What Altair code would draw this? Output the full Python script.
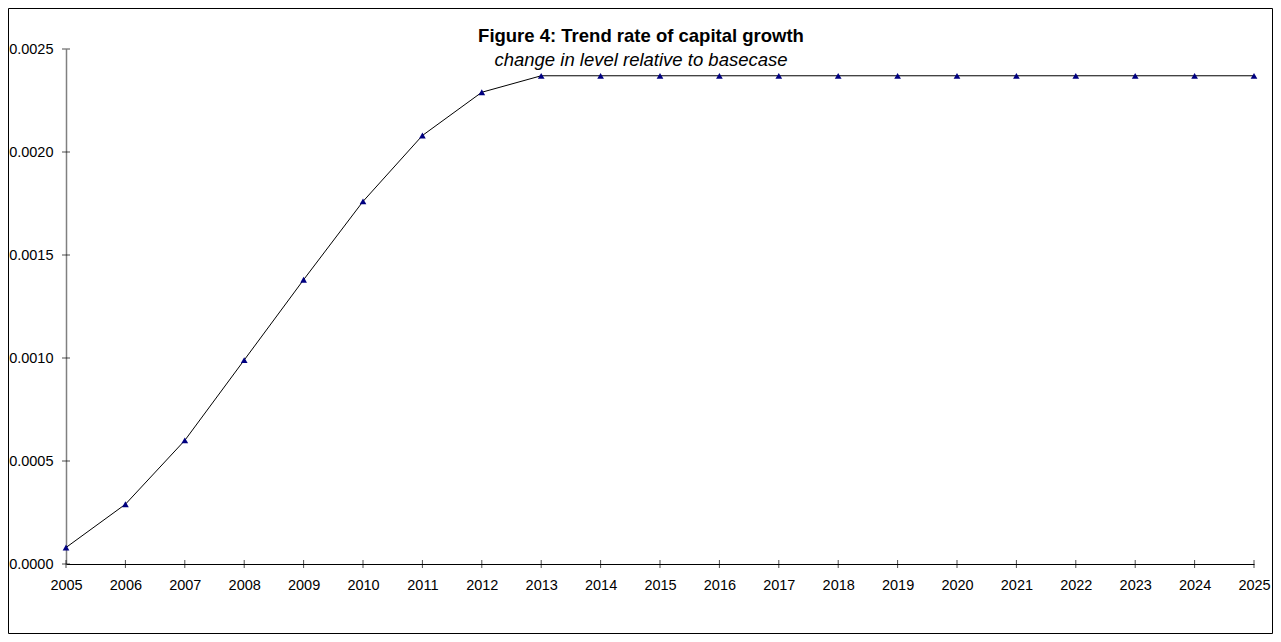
import altair as alt
import pandas as pd

years = [2005, 2006, 2007, 2008, 2009, 2010, 2011, 2012, 2013, 2014, 2015,
         2016, 2017, 2018, 2019, 2020, 2021, 2022, 2023, 2024, 2025]
values = [0.00008, 0.00029, 0.00060, 0.00099, 0.00138, 0.00176, 0.00208,
          0.00229, 0.00237, 0.00237, 0.00237, 0.00237, 0.00237, 0.00237,
          0.00237, 0.00237, 0.00237, 0.00237, 0.00237, 0.00237, 0.00237]
y_ticks = [0.0, 0.0005, 0.0010, 0.0015, 0.0020, 0.0025]
title_text = "Figure 4: Trend rate of capital growth"
subtitle_text = "change in level relative to basecase"

FONT = "Liberation Sans"
W, H = 1188, 515
LEFT, TOP = 58, 41

df = pd.DataFrame({"year": years, "value": values})
df_xt = pd.DataFrame({"year": years, "value": [0.0] * len(years)})
df_yt = pd.DataFrame({"year": [years[0]] * len(y_ticks), "value": y_ticks})

x_scale = alt.Scale(domain=[years[0], years[-1]], nice=False, zero=False)
y_scale = alt.Scale(domain=[y_ticks[0], y_ticks[-1]], nice=False, zero=True)
x_axis = alt.Axis(values=years, format="d", title=None, grid=False, ticks=False,
                  tickSize=0, labelPadding=14, labelFontSize=14.5, labelColor="black",
                  labelFont=FONT, labelFlush=False, labelOverlap=False,
                  domainColor="black", domainWidth=1)
y_axis = alt.Axis(values=y_ticks, format=".4f", title=None, grid=False, ticks=False,
                  tickSize=0, labelPadding=13, labelFontSize=14.5, labelColor="black",
                  labelFont=FONT, labelFlush=False, labelOverlap=False,
                  domainColor="#808080", domainWidth=1.5)

X = alt.X("year:Q", scale=x_scale, axis=x_axis)
Y = alt.Y("value:Q", scale=y_scale, axis=y_axis)

ox, oy = 8 + LEFT, 8 + TOP
frame = alt.Chart(pd.DataFrame({"a": [0]})).mark_rect(
    fillOpacity=0, stroke="black", strokeWidth=1
).encode(x=alt.value(8.5 - ox), x2=alt.value(1272.5 - ox),
         y=alt.value(8.5 - oy), y2=alt.value(633.5 - oy))

line = alt.Chart(df).mark_line(color="black", strokeWidth=1).encode(x=X, y=Y)
points = alt.Chart(df).mark_point(shape="triangle-up", filled=True, size=45,
                                  color="#000080", opacity=1).encode(x=X, y=Y)
xt = alt.Chart(df_xt).mark_tick(orient="vertical", size=8, thickness=1,
                                color="black").encode(x=X, y=Y)
yt = alt.Chart(df_yt).mark_tick(orient="horizontal", size=8, thickness=1,
                                color="black").encode(x=X, y=Y)

title = alt.Chart(pd.DataFrame({"t": [title_text]})).mark_text(
    font=FONT, fontSize=18.5, fontWeight="bold", color="black",
    align="center", baseline="middle"
).encode(text="t:N", x=alt.value(641 - ox), y=alt.value(36 - oy))
subtitle = alt.Chart(pd.DataFrame({"t": [subtitle_text]})).mark_text(
    font=FONT, fontSize=18.5, fontStyle="italic", color="black",
    align="center", baseline="middle"
).encode(text="t:N", x=alt.value(641 - ox), y=alt.value(60 - oy))

chart = alt.layer(frame, line, xt, yt, points, title, subtitle).properties(
    width=W, height=H,
    padding={"left": LEFT, "top": TOP, "right": 1265 - LEFT - W, "bottom": 626 - TOP - H},
    autosize="none",
    background="white",
).configure_view(stroke=None)

chart.save("out.html", embed_options={"renderer": "svg", "actions": False})
